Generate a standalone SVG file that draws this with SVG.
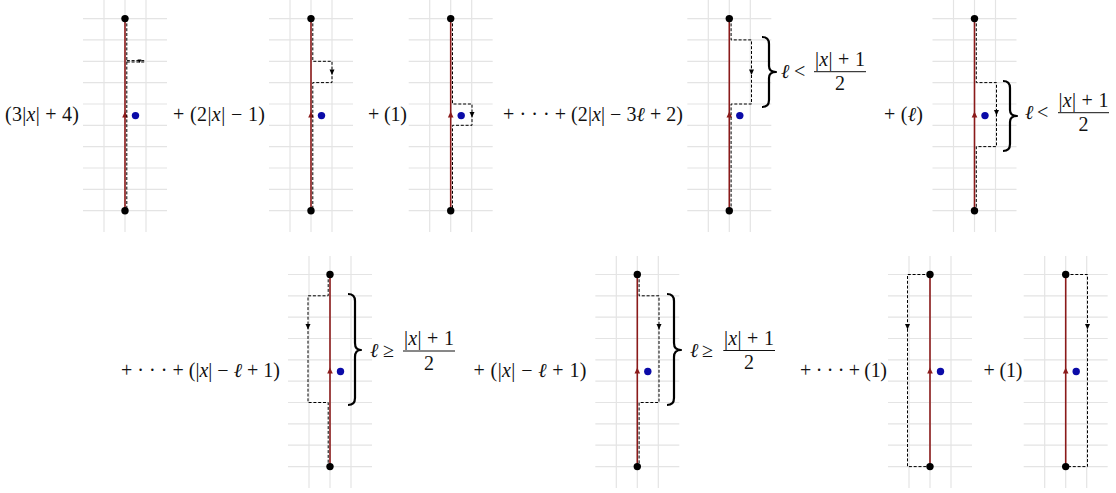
<svg xmlns="http://www.w3.org/2000/svg" xmlns:xlink="http://www.w3.org/1999/xlink" width="1116" height="493" viewBox="0 0 1116 493">
<style>
.g{stroke:#e4e4e4;stroke-width:1.2;fill:none}
.red{stroke:#8b1a1a;stroke-width:1.6;fill:none}
.dash{stroke:#000;stroke-width:1;fill:none;stroke-dasharray:3 1.8}
.ah{fill:#000}
.t{font-family:"Liberation Serif","DejaVu Serif",serif;font-size:20px;fill:#111}
.i{font-style:italic}
.br{stroke:#000;stroke-width:2.2;fill:none;stroke-linejoin:round}
.bar{stroke:#111;stroke-width:1}
</style>
<defs>
<g id="base">
<path class="g" d="M-21 0V232M0 0V232M21 0V232M-42 18.6H42M-42 39.9H42M-42 61.3H42M-42 82.6H42M-42 104H42M-42 125.3H42M-42 146.6H42M-42 168H42M-42 189.3H42M-42 210.7H42"/>
<line class="red" x1="0" y1="18.6" x2="0" y2="210.7"/>
<polygon points="-2.8,117.5 2.8,117.5 0,111.5" fill="#8b1a1a"/>
<circle cx="10.5" cy="115.6" r="3.7" fill="#0b0ba8"/>
</g>
<g id="dots">
<circle cx="0" cy="18.6" r="3.7" fill="#000"/>
<circle cx="0" cy="210.7" r="3.7" fill="#000"/>
</g>
</defs>
<rect width="1116" height="493" fill="#fff"/>

<g id="panel1">
<use xlink:href="#base" x="125" y="0"/>
<text class="t" x="5" y="121" textLength="74" lengthAdjust="spacing">(3|<tspan class="i">x</tspan>| + 4)</text>
</g>
<g id="panel2">
<use xlink:href="#base" x="311" y="0"/>
<text class="t" x="173" y="121" textLength="92" lengthAdjust="spacing">+ (2|<tspan class="i">x</tspan>| − 1)</text>
</g>
<g id="panel3">
<use xlink:href="#base" x="450.7" y="0"/>
<text class="t" x="368" y="121" textLength="39" lengthAdjust="spacing">+ (1)</text>
</g>
<g id="panel4">
<use xlink:href="#base" x="729.3" y="0"/>
<text class="t" x="503" y="121" textLength="180" lengthAdjust="spacing">+ · · · +  (2|<tspan class="i">x</tspan>| − 3<tspan class="i">ℓ</tspan> + 2)</text>
<path class="br" d="M762 37Q769 37 769 44V66Q769 72 776 72Q769 72 769 78V100Q769 107 762 107"/>
<text class="t i" x="781" y="78">ℓ</text>
<text class="t" x="794" y="78">&lt;</text>
<text class="t" x="840" y="65.5" text-anchor="middle" textLength="50" lengthAdjust="spacing">|<tspan class="i">x</tspan>| + 1</text>
<line class="bar" x1="814" y1="71.7" x2="866" y2="71.7"/>
<text class="t" x="840" y="90" text-anchor="middle">2</text>
</g>
<g id="panel5">
<use xlink:href="#base" x="974.5" y="0"/>
<text class="t" x="884" y="121" textLength="39" lengthAdjust="spacing">+ (<tspan class="i">ℓ</tspan>)</text>
<path class="br" d="M1003 81Q1010 81 1010 88V110Q1010 116 1017 116Q1010 116 1010 122V144Q1010 151 1003 151"/>
<text class="t i" x="1025" y="119">ℓ</text>
<text class="t" x="1037" y="119">&lt;</text>
<text class="t" x="1083.5" y="106.5" text-anchor="middle" textLength="50" lengthAdjust="spacing">|<tspan class="i">x</tspan>| + 1</text>
<line class="bar" x1="1058" y1="112.7" x2="1109" y2="112.7"/>
<text class="t" x="1083.5" y="131" text-anchor="middle">2</text>
</g>

<g id="panel6">
<use xlink:href="#base" x="330" y="255.9"/>
<text class="t" x="121" y="377" textLength="159" lengthAdjust="spacing">+ · · · +  (|<tspan class="i">x</tspan>| − <tspan class="i">ℓ</tspan> + 1)</text>
<path class="br" d="M348 294Q355 294 355 301V343Q355 350 361 350Q355 350 355 357V398Q355 405 348 405"/>
<text class="t i" x="370" y="357">ℓ</text>
<text class="t" x="383" y="357">≥</text>
<text class="t" x="429" y="345" text-anchor="middle" textLength="50" lengthAdjust="spacing">|<tspan class="i">x</tspan>| + 1</text>
<line class="bar" x1="403" y1="351" x2="455" y2="351"/>
<text class="t" x="429" y="369.5" text-anchor="middle">2</text>
</g>
<g id="panel7">
<use xlink:href="#base" x="637.3" y="255.9"/>
<text class="t" x="473.5" y="377" textLength="113" lengthAdjust="spacing">+ (|<tspan class="i">x</tspan>| − <tspan class="i">ℓ</tspan> + 1)</text>
<path class="br" d="M667 294Q674 294 674 301V343Q674 350 681 350Q674 350 674 357V398Q674 405 667 405"/>
<text class="t i" x="690" y="357">ℓ</text>
<text class="t" x="702" y="357">≥</text>
<text class="t" x="749" y="344.5" text-anchor="middle" textLength="50" lengthAdjust="spacing">|<tspan class="i">x</tspan>| + 1</text>
<line class="bar" x1="723.3" y1="350.5" x2="775" y2="350.5"/>
<text class="t" x="749" y="369" text-anchor="middle">2</text>
</g>
<g id="panel8">
<use xlink:href="#base" x="930" y="255.9"/>
<text class="t" x="800" y="377" textLength="87" lengthAdjust="spacing">+ · · · +  (1)</text>
</g>
<g id="panel9">
<use xlink:href="#base" x="1065.7" y="255.9"/>
<text class="t" x="983.5" y="377" textLength="39" lengthAdjust="spacing">+ (1)</text>
</g>

<g id="connectors">
<path class="dash" d="M126.8 18.6V210.7"/>
<path class="dash" d="M126.8 60.6H146M126.8 62H146"/>
<polygon class="ah" points="137.5,59.5 141.5,59.5 139.5,63"/>

<path class="dash" d="M312.8 18.6V61.3H332V82.6H312.8V210.7"/>
<polygon class="ah" points="329.5,69.5 334.5,69.5 332,75"/>

<path class="dash" d="M452.5 18.6V104H472V125.3H452.5V210.7"/>
<polygon class="ah" points="469.5,112 474.5,112 472,117.5"/>

<path class="dash" d="M731.1 18.6V39.9H751.5V104H731.1V210.7"/>
<polygon class="ah" points="749,69.5 754,69.5 751.5,75"/>

<path class="dash" d="M976.3 18.6V82.6H996.5V146.6H976.3V210.7"/>
<polygon class="ah" points="994,110 999,110 996.5,115.5"/>

<path class="dash" d="M328.2 274.5V295.8H308V402.5H328.2V466.6"/>
<polygon class="ah" points="305.5,324 310.5,324 308,329.5"/>

<path class="dash" d="M639.1 274.5V295.8H659V402.5H639.1V466.6"/>
<polygon class="ah" points="656.5,324 661.5,324 659,329.5"/>

<path class="dash" d="M930 274.5H907.5V466.6H930"/>
<polygon class="ah" points="905,324 910,324 907.5,329.5"/>

<path class="dash" d="M1065.7 274.5H1087.5V466.6H1065.7"/>
<polygon class="ah" points="1085,324 1090,324 1087.5,329.5"/>
</g>

<g id="endpoints">
<use xlink:href="#dots" x="125" y="0"/>
<use xlink:href="#dots" x="311" y="0"/>
<use xlink:href="#dots" x="450.7" y="0"/>
<use xlink:href="#dots" x="729.3" y="0"/>
<use xlink:href="#dots" x="974.5" y="0"/>
<use xlink:href="#dots" x="330" y="255.9"/>
<use xlink:href="#dots" x="637.3" y="255.9"/>
<use xlink:href="#dots" x="930" y="255.9"/>
<use xlink:href="#dots" x="1065.7" y="255.9"/>
</g>
</svg>
